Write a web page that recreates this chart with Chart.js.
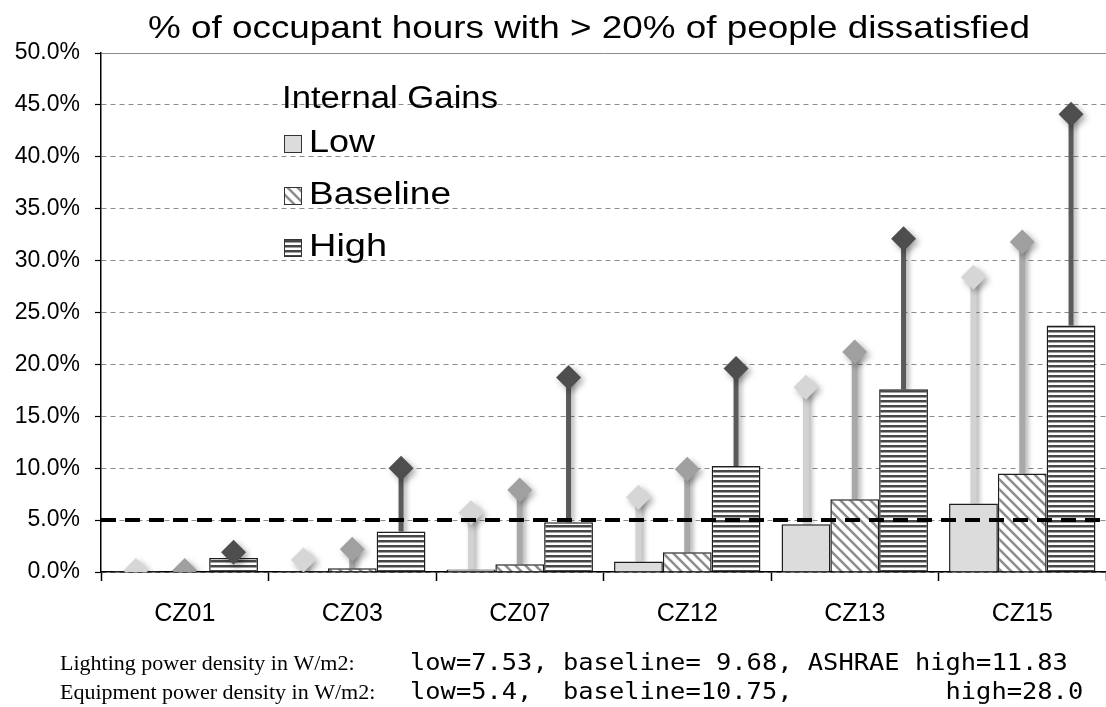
<!DOCTYPE html>
<html>
<head>
<meta charset="utf-8">
<script src="https://cdn.jsdelivr.net/npm/chart.js@4.4.0/dist/chart.umd.min.js"></script>
<style>
html, body { margin: 0; padding: 0; background: #fff; }
canvas { display: block; }
</style>
</head>
<body>
<canvas id="chart" width="1106" height="707"></canvas>
<script>
// climate zones on the x axis
var categories = ['CZ01', 'CZ03', 'CZ07', 'CZ12', 'CZ13', 'CZ15'];
var gainLevels = ['Low', 'Baseline', 'High'];

// bars (%)
var lowBars  = [0.1, 0.1, 0.25, 1.0, 4.6, 6.6];
var baseBars = [0.05, 0.35, 0.75, 1.9, 7.0, 9.5];
var highBars = [1.35, 3.9, 4.8, 10.2, 17.6, 23.75];

// diamonds at the top of the stems (%)
var lowPeak  = [0.15, 1.15, 5.7, 7.2, 17.8, 28.4];
var basePeak = [0.15, 2.2, 7.9, 9.9, 21.2, 31.8];
var highPeak = [1.9, 10.0, 18.75, 19.6, 32.1, 44.1];

var threshold = 5;
var yMax = 50;
var yStep = 5;

var titleText = '% of occupant hours with > 20% of people dissatisfied';
var legendTitle = 'Internal Gains';
var footLabels = ['Lighting power density in W/m2:', 'Equipment power density in W/m2:'];
var footValues = ['low=7.53, baseline= 9.68, ASHRAE high=11.83',
                  'low=5.4,  baseline=10.75,          high=28.0'];

function makePattern(kind) {
  var c = document.createElement('canvas');
  var p = c.getContext('2d');
  if (kind === 'diag') {
    c.width = 10; c.height = 10;
    p.fillStyle = '#fff'; p.fillRect(0, 0, 10, 10);
    p.strokeStyle = '#8e8e8e'; p.lineWidth = 2.6;
    p.beginPath();
    p.moveTo(-5, -5); p.lineTo(15, 15);
    p.moveTo(-5, 5); p.lineTo(5, 15);
    p.moveTo(5, -5); p.lineTo(15, 5);
    p.stroke();
  } else {
    c.width = 4; c.height = 5;
    p.fillStyle = '#fff'; p.fillRect(0, 0, 4, 5);
    p.fillStyle = '#474747'; p.fillRect(0, 0, 4, 2.5);
  }
  return p.createPattern(c, 'repeat');
}

var fills = ['#dcdcdc', makePattern('diag'), makePattern('horiz')];
var stemColors = ['#d2d2d2', '#a8a8a8', '#5a5a5a'];
var diamondColors = ['#d6d6d6', '#a0a0a0', '#4e4e4e'];
var peaks = [lowPeak, basePeak, highPeak];
var bars = [lowBars, baseBars, highBars];
var stacks = ['low', 'base', 'high'];

function fitText(ctx, text, x, y, font, width, align) {
  ctx.save();
  ctx.font = font;
  var w = ctx.measureText(text).width;
  var s = width ? width / w : 1;
  ctx.translate(x, y);
  ctx.scale(s, 1);
  ctx.textAlign = align || 'left';
  ctx.textBaseline = 'alphabetic';
  ctx.fillStyle = '#000';
  ctx.fillText(text, 0, 0);
  ctx.restore();
}

var datasets = [];
for (var k = 0; k < 3; k++) {
  datasets.push({
    label: gainLevels[k],
    data: bars[k],
    backgroundColor: fills[k],
    borderColor: '#1e1e1e',
    borderWidth: 1.5,
    stack: stacks[k]
  });
}
for (var k = 0; k < 3; k++) {
  datasets.push({
    label: gainLevels[k] + ' peak',
    data: bars[k].map(function (v, i) { return [v, peaks[k][i]]; }),
    backgroundColor: stemColors[k],
    borderWidth: 0,
    maxBarThickness: k === 2 ? 5 : 6,
    stack: stacks[k],
    isStem: true,
    level: k
  });
}

var decor = {
  id: 'decor',
  beforeDatasetDraw: function (chart, args) {
    if (!chart.data.datasets[args.index].isStem) return;
    var ctx = chart.ctx;
    ctx.save();
    ctx.shadowColor = 'rgba(0,0,0,0.3)';
    ctx.shadowBlur = 5;
    ctx.shadowOffsetX = 3;
    ctx.shadowOffsetY = 2;
  },
  afterDatasetDraw: function (chart, args) {
    if (!chart.data.datasets[args.index].isStem) return;
    chart.ctx.restore();
  },
  afterDatasetsDraw: function (chart) {
    var ctx = chart.ctx, area = chart.chartArea, y = chart.scales.y;
    ctx.save();
    ctx.beginPath();
    ctx.rect(area.left, area.top - 20, area.right - area.left, area.bottom - area.top + 20);
    ctx.clip();
    chart.data.datasets.forEach(function (ds, di) {
      if (!ds.isStem) return;
      var meta = chart.getDatasetMeta(di);
      meta.data.forEach(function (el, i) {
        var cy = y.getPixelForValue(peaks[ds.level][i]);
        var r = 12.5;
        ctx.save();
        ctx.shadowColor = 'rgba(0,0,0,0.35)';
        ctx.shadowBlur = 6;
        ctx.shadowOffsetX = 3;
        ctx.shadowOffsetY = 3;
        ctx.fillStyle = diamondColors[ds.level];
        ctx.beginPath();
        ctx.moveTo(el.x, cy - r);
        ctx.lineTo(el.x + r, cy);
        ctx.lineTo(el.x, cy + r);
        ctx.lineTo(el.x - r, cy);
        ctx.closePath();
        ctx.fill();
        ctx.restore();
      });
    });
    ctx.restore();

    // threshold line
    var ty = y.getPixelForValue(threshold);
    ctx.save();
    ctx.strokeStyle = '#000';
    ctx.lineWidth = 4;
    ctx.setLineDash([15, 9]);
    ctx.beginPath();
    ctx.moveTo(area.left, ty);
    ctx.lineTo(area.right, ty);
    ctx.stroke();
    ctx.restore();
  },
  afterDraw: function (chart) {
    var ctx = chart.ctx;
    fitText(ctx, titleText, 589, 38, '32px "Liberation Sans", Arial', 882, 'center');

    // legend
    fitText(ctx, legendTitle, 282, 108, '31px "Liberation Sans", Arial', 216);
    var widths = [66, 142, 78];
    for (var k = 0; k < 3; k++) {
      var by = 152 + k * 52;
      ctx.save();
      ctx.fillStyle = fills[k];
      ctx.fillRect(284, by - 17, 17, 17);
      ctx.strokeStyle = '#333';
      ctx.lineWidth = 1;
      ctx.strokeRect(284.5, by - 16.5, 17, 17);
      ctx.restore();
      fitText(ctx, gainLevels[k], 309, by, '31px "Liberation Sans", Arial', widths[k]);
    }

    // footer notes
    for (var j = 0; j < 2; j++) {
      var fy = 670 + j * 29;
      fitText(ctx, footLabels[j], 60, fy, '22px "Liberation Serif", "Times New Roman"', 0);
      fitText(ctx, footValues[j], 410, fy, '23px "DejaVu Sans Mono", monospace', footValues[j].length * 15.3);
    }
  }
};

new Chart(document.getElementById('chart'), {
  type: 'bar',
  data: { labels: categories, datasets: datasets },
  options: {
    responsive: false,
    animation: false,
    layout: { padding: { top: 53, right: 0, bottom: 0, left: 0 } },
    datasets: {
      bar: { categoryPercentage: 0.874, barPercentage: 1 }
    },
    plugins: {
      legend: { display: false },
      title: { display: false },
      tooltip: { enabled: false }
    },
    scales: {
      x: {
        grid: { drawOnChartArea: false, offset: true, tickLength: 9, tickColor: '#000', tickWidth: 1.5 },
        border: { color: '#000', width: 1.5 },
        ticks: { color: '#000', padding: 18, font: { family: '"Liberation Sans", Arial', size: 25 } },
        afterFit: function (s) { s.height = 135; }
      },
      y: {
        stacked: false,
        min: 0,
        max: yMax,
        grid: { color: '#8c8c8c', lineWidth: 1, tickLength: 6, tickColor: '#000', tickWidth: 1.2 },
        border: {
          color: '#000', width: 1.5,
          dash: function (c) { return (c.tick && c.tick.value !== yMax) ? [5, 4] : []; }
        },
        ticks: {
          stepSize: yStep, color: '#000', padding: 15,
          font: { family: '"Liberation Sans", Arial', size: 23 },
          callback: function (v) { return v.toFixed(1) + '%'; }
        },
        afterFit: function (s) { s.width = 101; }
      }
    }
  },
  plugins: [decor]
});
</script>
</body>
</html>
